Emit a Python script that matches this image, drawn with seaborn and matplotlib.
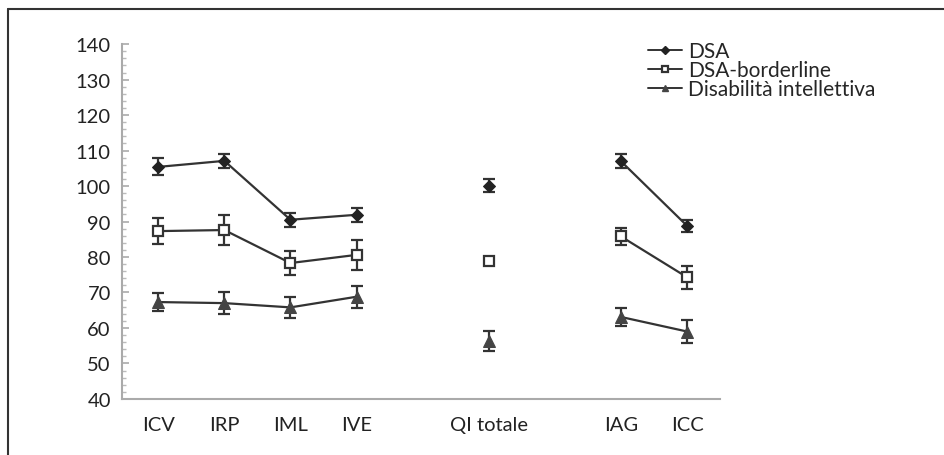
import seaborn as sns
import matplotlib.pyplot as plt
import matplotlib
import pandas as pd
import numpy as np
from matplotlib.ticker import MultipleLocator
from matplotlib.lines import Line2D

# categories (blank slots keep the gaps between groups of indices)
categories = ["ICV", "IRP", "IML", "IVE", "", "QI totale", "", "IAG", "ICC"]
measures = ["ICV", "IRP", "IML", "IVE", "QI totale", "IAG", "ICC"]
segment = [0, 0, 0, 0, 1, 2, 2]

dsa_mean = [105.4, 107.1, 90.5, 91.9, 100.1, 107.0, 88.8]
dsa_err = [2.4, 2.0, 2.0, 2.0, 1.8, 2.0, 1.7]
bord_mean = [87.3, 87.6, 78.3, 80.6, 78.9, 85.8, 74.3]
bord_err = [3.6, 4.2, 3.4, 4.2, 0.8, 2.3, 3.2]
di_mean = [67.3, 67.0, 65.8, 68.8, 56.4, 63.1, 59.0]
di_err = [2.6, 3.0, 3.0, 3.1, 2.8, 2.5, 3.3]

groups = ["DSA", "DSA-borderline", "Disabilità intellettiva"]

sns.set_style("white")
plt.rcParams['font.family'] = ['Lato', 'DejaVu Sans']

fig = plt.figure(figsize=(9.45, 4.56), dpi=100)
ax = fig.add_axes([0.129, 0.123, 0.633, 0.778])

xpos = [categories.index(m) for m in measures]

styles = {
    "DSA": dict(marker="D", markersize=6.5, markerfacecolor="#222222", markeredgecolor="#222222"),
    "DSA-borderline": dict(marker="s", markersize=7.5, markerfacecolor="white", markeredgecolor="#333333",
                           markeredgewidth=1.6),
    "Disabilità intellettiva": dict(marker="^", markersize=8, markerfacecolor="#444444", markeredgecolor="#444444"),
}

for name, mean, err in zip(groups, [dsa_mean, bord_mean, di_mean], [dsa_err, bord_err, di_err]):
    df = pd.DataFrame({"x": xpos, "y": mean, "err": err, "seg": segment})
    ax.errorbar(df["x"], df["y"], yerr=df["err"], fmt="none", ecolor="#333333",
                elinewidth=1.6, capsize=4, capthick=1.6, zorder=2)
    for s, d in df.groupby("seg"):
        sns.lineplot(data=d, x="x", y="y", ax=ax, color="#333333", linewidth=1.6,
                     zorder=3, legend=False, **styles[name])

ax.set_xlim(-0.55, 8.5)
ax.set_ylim(40, 140)
ax.set_xticks(range(len(categories)))
ax.set_xticklabels(categories)
ax.yaxis.set_major_locator(MultipleLocator(10))
ax.yaxis.set_minor_locator(MultipleLocator(2))
ax.set_xlabel("")
ax.set_ylabel("")

for side in ["top", "right"]:
    ax.spines[side].set_visible(False)
for side in ["left", "bottom"]:
    ax.spines[side].set_color("#aaaaaa")
    ax.spines[side].set_linewidth(1.5)

ax.tick_params(axis="y", which="major", direction="in", length=5, width=1.2, color="#aaaaaa",
               left=True, labelsize=14.5, pad=8, labelcolor="#222222")
ax.tick_params(axis="y", which="minor", direction="in", length=3, width=1.0, color="#bbbbbb", left=True)
ax.tick_params(axis="x", length=0, labelsize=14.5, pad=12, labelcolor="#222222")

handles = [Line2D([0], [0], color="#333333", linewidth=1.4,
                  **{k: (v * 0.6 if k == "markersize" else v) for k, v in styles[g].items()})
           for g in groups]
fig.legend(handles, groups, loc="upper left", bbox_to_anchor=(0.675, 0.93), frameon=False,
           fontsize=15, handlelength=1.6, handletextpad=0.3, labelspacing=-0.05, borderpad=0)

# outer frame (top and left border of the original figure box)
fig.add_artist(Line2D([0.0085, 1.0], [0.978, 0.978], transform=fig.transFigure, color="#333333", linewidth=1.5))
fig.add_artist(Line2D([0.0085, 0.0085], [0.0, 0.978], transform=fig.transFigure, color="#333333", linewidth=1.5))

plt.savefig("out.png", dpi=100)
